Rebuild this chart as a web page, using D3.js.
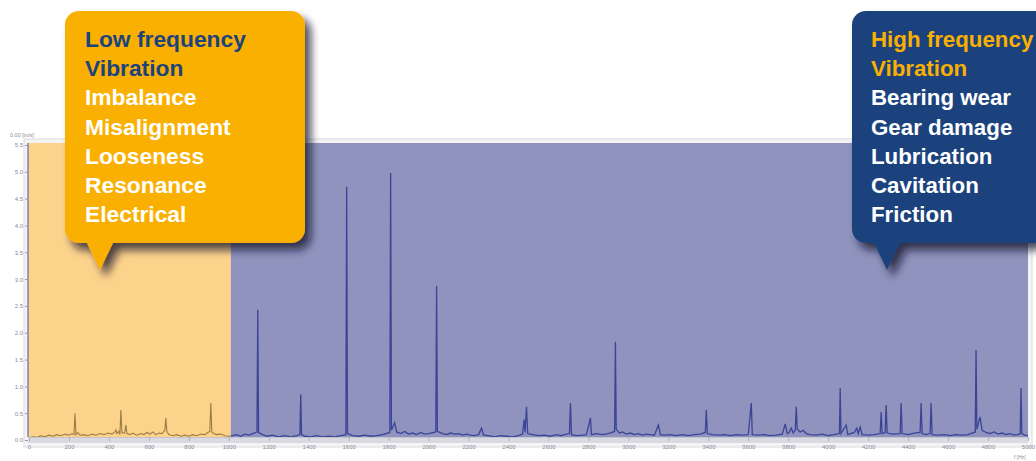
<!DOCTYPE html>
<html>
<head>
<meta charset="utf-8">
<script src="https://cdn.jsdelivr.net/npm/d3@7"></script>
<style>
  html, body { margin: 0; padding: 0; background: #fff; }
  svg { display: block; font-family: "Liberation Sans", Arial, sans-serif; }
</style>
</head>
<body>
<svg id="chart"></svg>
<script>
// spectrum: frequency (Hz) and amplitude
const spectrum_hz = [
  0, 20, 40, 60, 80, 100, 120, 140, 160, 180, 200, 215, 225, 230, 235, 245, 255, 275, 295, 315,
  335, 355, 375, 395, 415, 430, 435, 440, 450, 455, 460, 465, 475, 480, 485, 490, 505, 520, 540, 560,
  575, 590, 605, 620, 635, 650, 665, 680, 685, 690, 700, 720, 740, 760, 780, 800, 820, 840, 860, 880,
  895, 905, 910, 915, 925, 940, 960, 980, 1000,
  1020, 1040, 1060, 1080, 1100, 1120, 1141, 1145, 1149, 1170, 1190, 1220, 1250, 1280, 1310, 1340, 1356, 1360, 1364, 1380,
  1410, 1440, 1470, 1500, 1530, 1560, 1586, 1590, 1594, 1620, 1650, 1680, 1710, 1740, 1770, 1806, 1810, 1814, 1830, 1840,
  1860, 1880, 1900, 1920, 1940, 1960, 1980, 2000, 2036, 2040, 2044, 2070, 2090, 2110, 2130, 2150, 2170, 2190, 2210, 2230,
  2250, 2265, 2275, 2300, 2330, 2360, 2390, 2420, 2450, 2470, 2478, 2483, 2490, 2496, 2520, 2550, 2580, 2610, 2640, 2660,
  2680, 2705, 2710, 2715, 2740, 2770, 2790, 2810, 2815, 2840, 2870, 2900, 2931, 2935, 2939, 2955, 2970, 2990, 3010, 3030,
  3050, 3070, 3090, 3110, 3130, 3150, 3160, 3180, 3210, 3240, 3270, 3300, 3330, 3360, 3385, 3390, 3395, 3420, 3450, 3480,
  3510, 3540, 3570, 3600, 3615, 3620, 3650, 3680, 3710, 3740, 3770, 3785, 3795, 3805, 3815, 3825, 3835, 3840, 3845, 3860,
  3875, 3890, 3910, 3940, 3970, 4000, 4030, 4056, 4060, 4064, 4090, 4098, 4130, 4143, 4150, 4160, 4170, 4200, 4230, 4260,
  4265, 4270, 4285, 4290, 4295, 4320, 4360, 4365, 4370, 4400, 4430, 4460, 4465, 4470, 4490, 4510, 4515, 4520, 4550, 4580,
  4610, 4640, 4670, 4700, 4736, 4740, 4744, 4760, 4770, 4790, 4810, 4830, 4850, 4870, 4890, 4910, 4930, 4950, 4961, 4965,
  4969, 4985, 5000
];
const spectrum_amp = [
  0.04, 0.06, 0.05, 0.08, 0.06, 0.09, 0.07, 0.10, 0.08, 0.11, 0.09, 0.12, 0.10, 0.50, 0.10, 0.14, 0.09, 0.10, 0.08, 0.11,
  0.09, 0.12, 0.10, 0.13, 0.11, 0.15, 0.19, 0.12, 0.16, 0.10, 0.56, 0.14, 0.12, 0.16, 0.28, 0.12, 0.10, 0.13, 0.09, 0.12,
  0.10, 0.14, 0.11, 0.15, 0.10, 0.13, 0.12, 0.18, 0.41, 0.16, 0.10, 0.08, 0.10, 0.07, 0.09, 0.07, 0.10, 0.08, 0.11, 0.10,
  0.14, 0.16, 0.69, 0.15, 0.12, 0.10, 0.11, 0.08, 0.07,
  0.08, 0.10, 0.07, 0.11, 0.09, 0.12, 0.15, 2.43, 0.14, 0.10, 0.07, 0.09, 0.06, 0.08, 0.06, 0.08, 0.10, 0.85, 0.10, 0.07,
  0.06, 0.08, 0.06, 0.07, 0.06, 0.08, 0.10, 4.72, 0.12, 0.08, 0.07, 0.09, 0.07, 0.08, 0.10, 0.14, 4.98, 0.18, 0.32, 0.15,
  0.12, 0.16, 0.11, 0.13, 0.10, 0.14, 0.11, 0.12, 0.15, 2.87, 0.16, 0.12, 0.10, 0.13, 0.11, 0.12, 0.09, 0.11, 0.09, 0.08,
  0.10, 0.22, 0.09, 0.08, 0.06, 0.08, 0.07, 0.06, 0.08, 0.11, 0.38, 0.14, 0.62, 0.12, 0.10, 0.08, 0.09, 0.07, 0.10, 0.08,
  0.10, 0.12, 0.69, 0.10, 0.08, 0.09, 0.10, 0.41, 0.10, 0.12, 0.10, 0.12, 0.16, 1.83, 0.20, 0.13, 0.15, 0.11, 0.13, 0.10,
  0.12, 0.09, 0.11, 0.10, 0.09, 0.28, 0.10, 0.09, 0.10, 0.08, 0.10, 0.08, 0.10, 0.11, 0.14, 0.56, 0.12, 0.10, 0.09, 0.10,
  0.08, 0.10, 0.09, 0.10, 0.69, 0.10, 0.09, 0.10, 0.08, 0.09, 0.11, 0.30, 0.12, 0.14, 0.22, 0.13, 0.18, 0.62, 0.20, 0.15,
  0.18, 0.12, 0.10, 0.09, 0.11, 0.08, 0.10, 0.12, 0.97, 0.12, 0.28, 0.10, 0.14, 0.22, 0.12, 0.24, 0.10, 0.09, 0.10, 0.12,
  0.52, 0.12, 0.14, 0.65, 0.13, 0.11, 0.12, 0.69, 0.12, 0.10, 0.13, 0.14, 0.69, 0.12, 0.10, 0.12, 0.69, 0.10, 0.09, 0.10,
  0.08, 0.10, 0.09, 0.10, 0.15, 1.68, 0.20, 0.43, 0.18, 0.14, 0.12, 0.15, 0.11, 0.13, 0.10, 0.12, 0.09, 0.10, 0.12, 0.97,
  0.12, 0.09, 0.08
];

const x_ticks = d3.range(0, 5001, 200);
const y_ticks = [0, 0.5, 1, 1.5, 2, 2.5, 3, 3.5, 4, 4.5, 5, 5.5];
const band_split_hz = 1000;

const low_lines = ["Low frequency", "Vibration", "Imbalance", "Misalignment", "Looseness", "Resonance", "Electrical"];
const high_lines = ["High frequency", "Vibration", "Bearing wear", "Gear damage", "Lubrication", "Cavitation", "Friction"];

const width = 1036;
const height = 461;
const margin = { top: 143, right: 8, bottom: 21, left: 28 };

const svg = d3.select("#chart").attr("width", width).attr("height", height);

const x_scale = d3.scaleLinear().domain([0, 5000]).range([margin.left + 1, width - margin.right]);
const y_scale = d3.scaleLinear().domain([0, 5.5]).range([440, 145]);

const plot_top = margin.top;
const plot_bottom = height - margin.bottom - 3;

// faint frame around the plot
svg.append("rect")
  .attr("x", margin.left - 4).attr("y", plot_top - 4)
  .attr("width", width - margin.left - margin.right + 8).attr("height", plot_bottom - plot_top + 14)
  .attr("fill", "#f4f4f6").attr("stroke", "#dcdce2");

// frequency bands
svg.append("rect")
  .attr("x", margin.left).attr("y", plot_top)
  .attr("width", x_scale(band_split_hz) + 2 - margin.left).attr("height", plot_bottom - plot_top)
  .attr("fill", "#fdd38c");
svg.append("rect")
  .attr("x", x_scale(band_split_hz) + 2).attr("y", plot_top)
  .attr("width", x_scale(5000) - x_scale(band_split_hz) - 2).attr("height", plot_bottom - plot_top)
  .attr("fill", "#8f93bd");

// grey strip under the plot
svg.append("rect")
  .attr("x", margin.left).attr("y", plot_bottom)
  .attr("width", x_scale(5000) - margin.left).attr("height", 6)
  .attr("fill", "#d9d9e1");

const defs = svg.append("defs");
defs.append("clipPath").attr("id", "clip-low").append("rect")
  .attr("x", 0).attr("y", 0)
  .attr("width", x_scale(band_split_hz) + 2).attr("height", height);
defs.append("clipPath").attr("id", "clip-high").append("rect")
  .attr("x", x_scale(band_split_hz) + 2).attr("y", 0)
  .attr("width", width).attr("height", height);

const shadow = defs.append("filter").attr("id", "shadow")
  .attr("x", "-20%").attr("y", "-20%").attr("width", "150%").attr("height", "150%");
shadow.append("feDropShadow")
  .attr("dx", 6).attr("dy", 7).attr("stdDeviation", 4)
  .attr("flood-color", "#141826").attr("flood-opacity", 0.75);

const points = spectrum_hz.map((f, i) => [f, spectrum_amp[i]]);
const line = d3.line().x((d) => x_scale(d[0])).y((d) => y_scale(d[1]));

svg.append("path").datum(points)
  .attr("clip-path", "url(#clip-low)")
  .attr("d", line).attr("fill", "none")
  .attr("stroke", "#9a7d45").attr("stroke-width", 1.1);
svg.append("path").datum(points)
  .attr("clip-path", "url(#clip-high)")
  .attr("d", line).attr("fill", "none")
  .attr("stroke", "#3c4497").attr("stroke-width", 1.3);

// axes
const y_axis = svg.append("g")
  .attr("transform", `translate(${margin.left},0)`)
  .call(d3.axisLeft(y_scale).tickValues(y_ticks).tickFormat(d3.format(".1f")).tickSize(3).tickSizeOuter(0));
y_axis.select(".domain").attr("stroke", "#7f82aa").attr("stroke-width", 1.5)
  .attr("d", `M0,${plot_top}V${plot_bottom}`);
y_axis.selectAll("line").attr("stroke", "#9a9aa8");
y_axis.selectAll("text").attr("font-size", 6).attr("fill", "#8a8a94").attr("dx", 1);

const x_axis = svg.append("g")
  .attr("transform", `translate(0,${plot_bottom})`)
  .call(d3.axisBottom(x_scale).tickValues(x_ticks).tickFormat(d3.format("d")).tickSize(4).tickSizeOuter(0));
x_axis.select(".domain").attr("stroke", "#c4c4ce");
x_axis.selectAll("line").attr("stroke", "#b0b0bc");
x_axis.selectAll("text").attr("font-size", 6).attr("fill", "#8a8a94").attr("dy", "0.9em");

svg.append("text")
  .attr("x", 10).attr("y", 137)
  .attr("font-size", 5.5).attr("fill", "#8a8a94")
  .text("0.00 [in/s]");
svg.append("text")
  .attr("x", 1014).attr("y", 459)
  .attr("font-size", 5).attr("fill", "#8a8a94")
  .text("f [Hz]");

// speech-bubble callouts
function bubble(x0, x1, tail_x, fill) {
  const top = 11, bottom = 243, r = 14, tip_y = 270;
  const p = d3.path();
  p.moveTo(x0 + r, top);
  p.lineTo(x1 - r, top);
  p.arcTo(x1, top, x1, top + r, r);
  p.lineTo(x1, bottom - r);
  p.arcTo(x1, bottom, x1 - r, bottom, r);
  p.lineTo(tail_x + 13, bottom);
  p.lineTo(tail_x, tip_y);
  p.lineTo(tail_x - 13, bottom);
  p.lineTo(x0 + r, bottom);
  p.arcTo(x0, bottom, x0, bottom - r, r);
  p.lineTo(x0, top + r);
  p.arcTo(x0, top, x0 + r, top, r);
  p.closePath();
  svg.append("path").attr("d", p.toString()).attr("fill", fill).attr("filter", "url(#shadow)");
}

function bubble_text(x, lines, head_color, size) {
  svg.append("g").selectAll("text").data(lines).enter().append("text")
    .attr("x", x)
    .attr("y", (d, i) => 47 + i * 29.2)
    .attr("font-size", size)
    .attr("font-weight", "bold")
    .attr("fill", (d, i) => (i < 2 ? head_color : "#ffffff"))
    .text((d) => d);
}

bubble(65, 305, 100, "#f9b000");
bubble_text(85, low_lines, "#1c437e", 22.8);

bubble(852, 1070, 887, "#1c427e");
bubble_text(871, high_lines, "#f9b000", 22.3);
</script>
</body>
</html>
